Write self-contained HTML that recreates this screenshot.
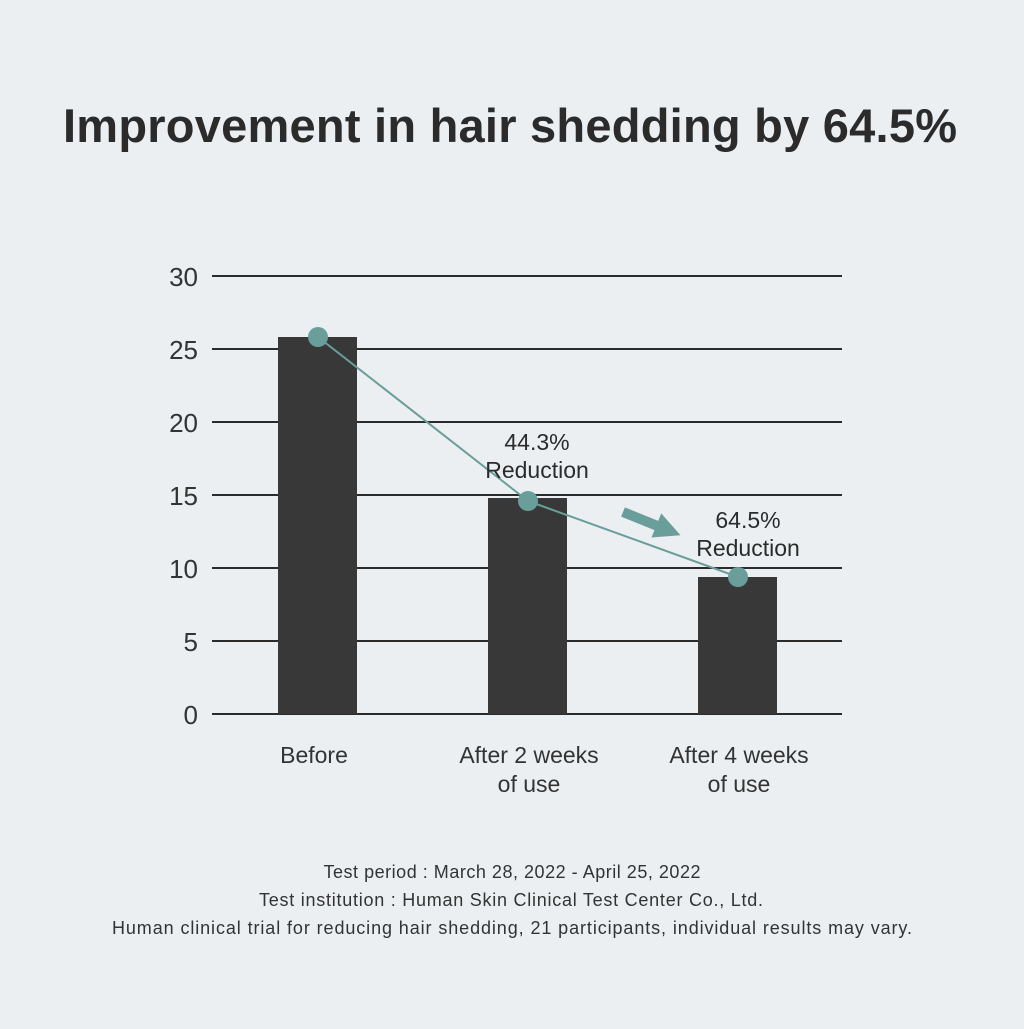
<!DOCTYPE html><html><head><style>
body{margin:0;width:1024px;height:1024px;background:#ebeff2;font-family:"Liberation Sans",sans-serif;overflow:hidden}
</style></head><body>
<svg width="1024" height="1024" xmlns="http://www.w3.org/2000/svg" font-family="Liberation Sans, sans-serif">
<text x="510" y="142" text-anchor="middle" font-size="47" font-weight="bold" fill="#2b2b2b" textLength="894">Improvement in hair shedding by 64.5%</text>
<g stroke="#2b2b2b" stroke-width="2">
<line x1="212" y1="276" x2="842" y2="276"/><line x1="212" y1="349" x2="842" y2="349"/>
<line x1="212" y1="422" x2="842" y2="422"/><line x1="212" y1="495" x2="842" y2="495"/>
<line x1="212" y1="568" x2="842" y2="568"/><line x1="212" y1="641" x2="842" y2="641"/>
<line x1="212" y1="714" x2="842" y2="714"/></g>
<g font-size="26" fill="#333" text-anchor="end">
<text x="198" y="286">30</text><text x="198" y="359">25</text><text x="198" y="432">20</text>
<text x="198" y="505">15</text><text x="198" y="578">10</text><text x="198" y="651">5</text><text x="198" y="724">0</text></g>
<g fill="#383838"><rect x="278" y="337" width="79" height="377"/><rect x="488" y="498" width="79" height="216"/><rect x="698" y="577" width="79" height="137"/></g>
<polyline points="318,337 528,501 738,577" fill="none" stroke="#6a9e9a" stroke-width="2"/>
<g fill="#6a9e9a"><circle cx="318" cy="337" r="10"/><circle cx="528" cy="501" r="10"/><circle cx="738" cy="577" r="10"/></g>
<g transform="translate(623,512) rotate(22)" fill="#6a9e9a">
<rect x="0" y="-5" width="38" height="10"/><polygon points="36,-13 62,0 36,13"/></g>
<g font-size="23" fill="#2b2b2b" text-anchor="middle">
<text x="537" y="450">44.3%</text><text x="537" y="478">Reduction</text>
<text x="748" y="528">64.5%</text><text x="748" y="556">Reduction</text></g>
<g font-size="23" fill="#333" text-anchor="middle">
<text x="314" y="763">Before</text><text x="529" y="763">After 2 weeks</text><text x="529" y="792">of use</text>
<text x="739" y="763">After 4 weeks</text><text x="739" y="792">of use</text></g>
<g font-size="18" fill="#333" text-anchor="middle">
<text x="512" y="878" textLength="377">Test period : March 28, 2022 - April 25, 2022</text>
<text x="511" y="906" textLength="504">Test institution : Human Skin Clinical Test Center Co., Ltd.</text>
<text x="512" y="934" textLength="800">Human clinical trial for reducing hair shedding, 21 participants, individual results may vary.</text></g>
</svg></body></html>
